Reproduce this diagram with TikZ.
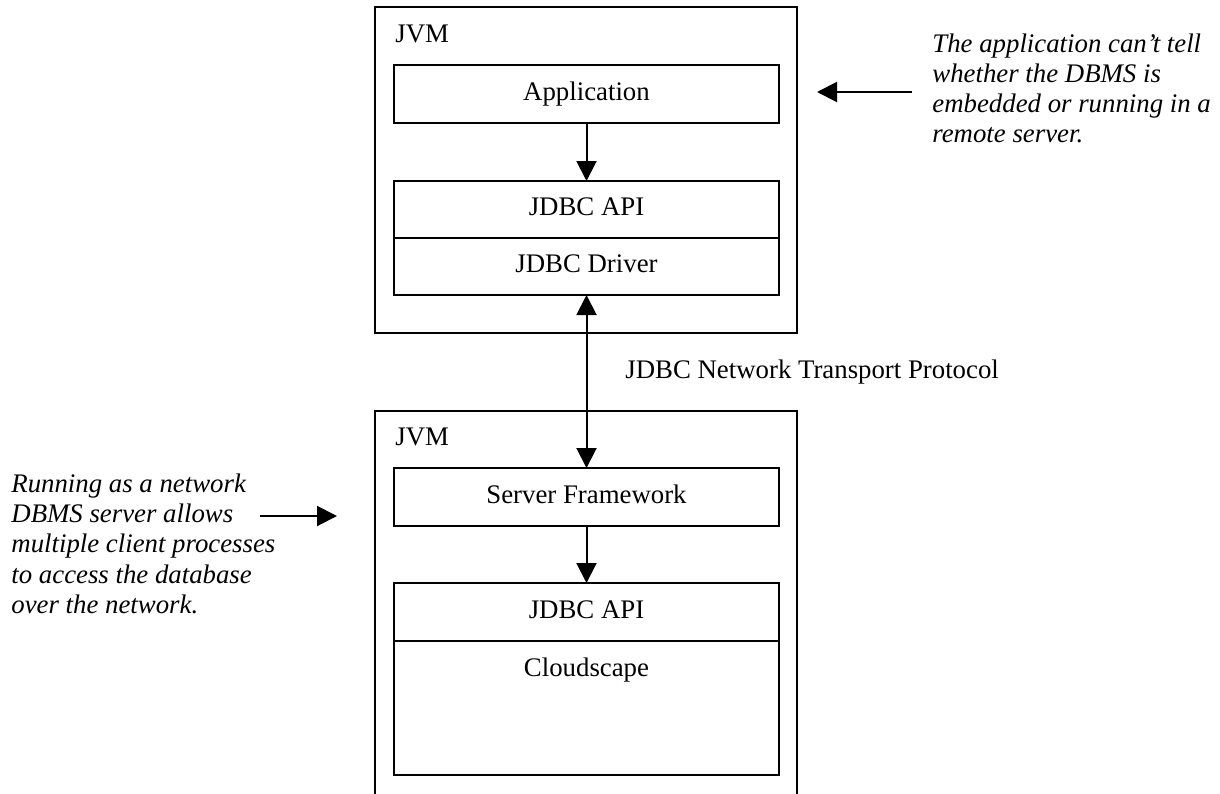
\documentclass[tikz,border=0pt]{standalone}
\usepackage{fontspec}
\setmainfont{Liberation Serif}
\usetikzlibrary{positioning,arrows.meta,calc}

\begin{document}
\begin{tikzpicture}[
  x=0.5pt, y=-0.5pt,
  every node/.style={font=\fontsize{13.4}{15.1}\selectfont},
  jvm/.style={draw, line width=0.6pt},
  layer/.style={draw, line width=0.6pt, minimum width=192.5pt, minimum height=#1,
    inner sep=0pt, outer sep=0pt, text height=9.2pt, text depth=2.9pt},
  note/.style={font=\fontsize{13.4}{15.1}\selectfont\itshape, align=left,
    inner sep=0pt, anchor=north west},
  tag/.style={inner sep=0pt, anchor=base west},
  arr/.style={-{Triangle[length=10pt, width=10pt]}, line width=1pt},
  arrboth/.style={{Triangle[length=10pt, width=10pt]}-{Triangle[length=10pt, width=10pt]}, line width=1pt},
]
\useasboundingbox (0,0) rectangle (1220,793);

% --- client JVM ---
\node[jvm, minimum width=211pt, minimum height=163pt, inner sep=0pt] (jvmA) at (586,170) {};
\node[tag] (jvmAt) at (395,42.7) {JVM};
\node[layer=29pt] (app) at (586.5,94) {Application};
\node[layer=28.5pt] (apiA) at (586.5,209.5) {JDBC API};
\node[layer=28.5pt] (drv) at (586.5,266.5) {JDBC Driver};

% --- server JVM (open at the bottom) ---
\draw[jvm] (375,795) |- (797,411) -- (797,795);
\node[tag] (jvmBt) at (395,445) {JVM};
\node[layer=29pt] (sf) at (586.5,497) {Server Framework};
\node[layer=29pt] (apiB) at (586.5,612) {JDBC API};
\node[layer=67pt] (cs) at (586.5,708) {};
\node[inner sep=0pt, anchor=base] (cstext) at (586.5,676.5) {Cloudscape};

% --- connectors ---
\draw[arr] (app) -- (apiA);
\draw[arr] (sf) -- (apiB);
\draw[arrboth] (drv) -- (sf);
\node[tag] (net) at (625,378.3) {JDBC Network Transport Protocol};

% --- notes ---
\node[note] (noteR) at (932,33.4) {The application can't tell\\whether the DBMS is\\embedded or running in a\\remote server.};
\coordinate (rtail) at (912,92);
\coordinate (rtip) at (817,92);
\draw[arr] (rtail) -- (rtip);

\node[note] (noteL) at (11,473.4) {Running as a network\\DBMS server allows\\multiple client processes\\to access the database\\over the network.};
\coordinate (ltail) at (260,516);
\coordinate (ltip) at (337,516);
\draw[arr] (ltail) -- (ltip);
\end{tikzpicture}
\end{document}
